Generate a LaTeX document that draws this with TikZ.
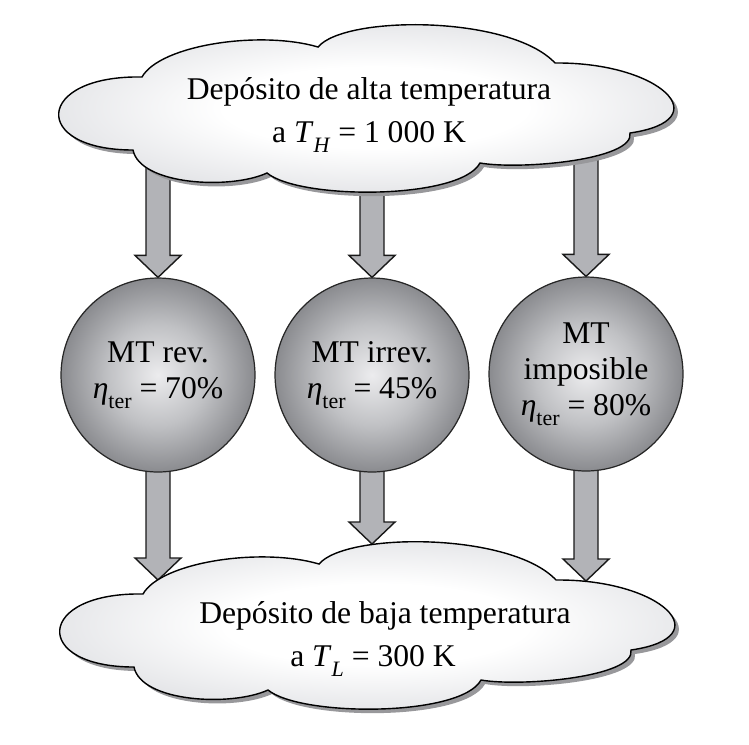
\documentclass[tikz,border=0pt]{standalone}
\usepackage{fontspec}
\setmainfont{Liberation Serif}
\usetikzlibrary{
  calc, shadows, backgrounds
}
\definecolor{heatgray}{RGB}{178,179,183}
\definecolor{enginelight}{RGB}{236,236,238}
\definecolor{enginemid}{RGB}{192,193,196}
\definecolor{enginedark}{RGB}{138,139,143}
\definecolor{cloudedge}{RGB}{226,227,230}
\definecolor{cloudshadow}{RGB}{152,152,155}
\pgfdeclareradialshading{enginefill}{\pgfpoint{0bp}{0bp}}{%
  color(0bp)=(enginelight); color(13bp)=(enginemid); color(25bp)=(enginedark); color(50bp)=(enginedark)}
\pgfdeclareradialshading{cloudfill}{\pgfpoint{0bp}{0bp}}{%
  color(0bp)=(white); color(11bp)=(white); color(25bp)=(cloudedge); color(50bp)=(cloudedge)}
\newcommand{\lowidx}[1]{\raisebox{-0.32em}{\fontsize{12.5}{12.5}\selectfont #1}}
\newcommand{\cloudoutline}{%
  (-226,-30) .. controls (-208,-62) and (-108,-77) .. (-50,-60)
  .. controls (-23,-92) and (142,-92) .. (187,-44)
  .. controls (292,-45) and (352,13) .. (262,26)
  .. controls (267,53) and (152,63) .. (112,56)
  .. controls (92,93) and (-68,93) .. (-101,66)
  .. controls (-138,83) and (-228,78) .. (-235,43)
  .. controls (-338,43) and (-333,-32) .. (-226,-30) -- cycle}
\newcommand{\heatflow}[2]{%
  \draw[heatarrow] ($(#1)+(-12,0)$) -- ($(#2)+(-12,-22)$) -- ($(#2)+(-23,-22)$)
    -- (#2) -- ($(#2)+(23,-22)$) -- ($(#2)+(12,-22)$) -- ($(#1)+(12,0)$) -- cycle;}
\tikzset{
  engine/.style={
    circle, draw=black!85, line width=0.7pt, minimum size=3.88cm, inner sep=0pt,
    shading=enginefill, align=center, font=\fontsize{18}{20.5}\selectfont
  },
  reservoirtext/.style={
    align=center, inner sep=0pt, font=\fontsize{18}{24.5}\selectfont
  },
  cloudbody/.style={
    draw=black, line width=0.8pt, shading=cloudfill,
    drop shadow={shadow xshift=0.08cm, shadow yshift=-0.08cm, fill=cloudshadow, opacity=1}
  },
  heatarrow/.style={draw=black!90, line width=0.8pt, fill=heatgray, line join=miter},
  deposit/.pic={\path[cloudbody] \cloudoutline;}
}

\begin{document}
\begin{tikzpicture}[x=0.02cm, y=-0.02cm]
  \useasboundingbox (0,0) rectangle (749,744);

  % ── Reservoirs ────────────────────────────────────────────────────
  \pic at (368,107) {deposit};
  \pic at (369,624) {deposit};
  \node[reservoirtext] (hot) at (369,115)
    {Depósito de alta temperatura\\
     a \textit{T}\lowidx{\textit{H}} = 1~000 K};
  \node[reservoirtext] (cold) at (385,639)
    {Depósito de baja temperatura\\
     a \textit{T}\lowidx{\textit{L}} = 300 K\hspace*{0.48cm}};

  % ── Engines ───────────────────────────────────────────────────────
  \node[engine] (rev)   at (158,375) {MT rev.\\ \textit{η}\lowidx{ter} = 70\%};
  \node[engine] (irrev) at (372,375) {MT irrev.\\ \textit{η}\lowidx{ter} = 45\%};
  \node[engine] (impos) at (586,374) {MT\\ imposible\\ \textit{η}\lowidx{ter} = 80\%};

  % ── Landing points on the cold cloud ──────────────────────────────
  \coordinate (landrev)   at (158,580);
  \coordinate (landirrev) at (372,544);
  \coordinate (landimpos) at (586,581);

  % ── Heat flows ────────────────────────────────────────────────────
  \begin{scope}[on background layer]
    \heatflow{rev |- hot}{rev.north}
    \heatflow{irrev |- hot}{irrev.north}
    \heatflow{impos |- hot}{impos.north}
    \heatflow{rev.center}{landrev}
    \heatflow{irrev.center}{landirrev}
    \heatflow{impos.center}{landimpos}
  \end{scope}
\end{tikzpicture}
\end{document}
